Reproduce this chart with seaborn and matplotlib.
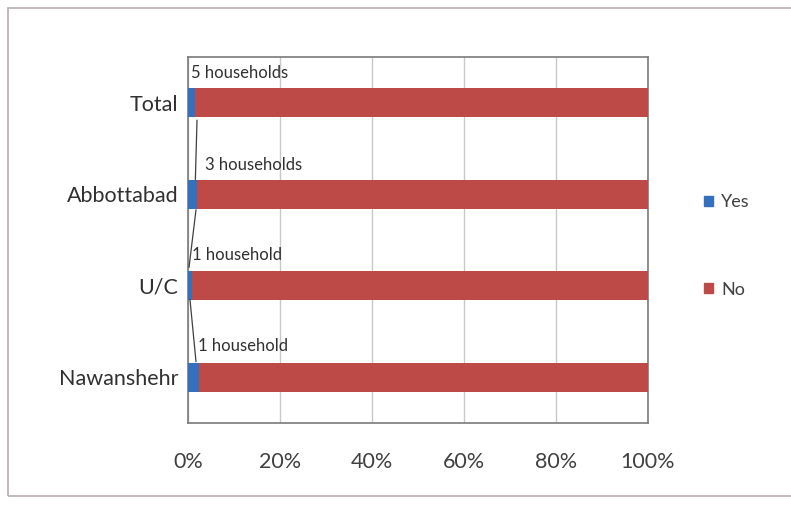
import matplotlib
matplotlib.use("Agg")
import matplotlib.pyplot as plt
import seaborn as sns
import pandas as pd
from matplotlib.patches import Rectangle, Patch

categories = ["Total", "Abbottabad", "U/C", "Nawanshehr"]
yes_pct = [1.6, 2.0, 0.8, 2.3]
no_pct = [98.4, 98.0, 99.2, 97.7]
labels = ["5 households", "3 households", "1 household", "1 household"]
xticks = [0, 20, 40, 60, 80, 100]
xtick_labels = ["0%", "20%", "40%", "60%", "80%", "100%"]

sns.set_theme(style="white")
plt.rcParams['font.family'] = ['Lato', 'DejaVu Sans']

df = pd.DataFrame({"cat": categories, "yes": yes_pct, "no": no_pct})
df["total"] = df["yes"] + df["no"]

fig = plt.figure(figsize=(7.91, 5.07), dpi=100)
ax = fig.add_axes([188/791, 1-423/507, (648-188)/791, (423-57)/507])

blue = "#3470BE"
red = "#BE4A48"
sns.barplot(data=df, y="cat", x="total", order=categories, color=red, width=0.32,
            orient="h", ax=ax, saturation=1, zorder=3, linewidth=0)
sns.barplot(data=df, y="cat", x="yes", order=categories, color=blue, width=0.32,
            orient="h", ax=ax, saturation=1, zorder=4, linewidth=0)

ax.set_xlim(0, 100)
ax.set_ylim(3.5, -0.5)
ax.set_xticks(xticks)
ax.set_xticklabels(xtick_labels, fontsize=15.5, color="#404040")
ax.tick_params(axis="x", pad=21, length=0)
ax.tick_params(axis="y", pad=7, length=0, labelsize=15.5, labelcolor="#303030")
ax.set_xlabel("")
ax.set_ylabel("")
ax.xaxis.grid(True, color="#c8c8c8", lw=1, zorder=0)
ax.set_axisbelow(True)
for s in ax.spines.values():
    s.set_visible(True)
    s.set_color("#7a7a7a")
    s.set_linewidth(1.2)

# data labels
label_pos = [(0.6, -0.33), (3.7, 0.68), (0.9, 1.66), (2.2, 2.66)]
for (x, y), t in zip(label_pos, labels):
    ax.text(x, y, t, fontsize=12, color="#303030", ha="left", va="center", zorder=5)

# leader lines
leaders = [((1.96, 0.19), (1.6, 0.84)),
           ((1.74, 1.17), (0.22, 1.80)),
           ((0.43, 2.15), (1.74, 2.83))]
for (x0, y0), (x1, y1) in leaders:
    ax.plot([x0, x1], [y0, y1], color="#404040", lw=0.9, zorder=5)

# legend
handles = [Patch(facecolor=blue, edgecolor=blue), Patch(facecolor=red, edgecolor=red)]
leg = fig.legend(handles, ["Yes", "No"], loc="upper left",
                 bbox_to_anchor=(688/791, 1-178/507), frameon=False,
                 handlelength=0.5, handleheight=0.5, handletextpad=0.45,
                 labelspacing=3.95, fontsize=13)
for t in leg.get_texts():
    t.set_color("#404040")

# chart border
fig.add_artist(Rectangle((8/791, 1-496/507), 1.0, (496-8)/507, transform=fig.transFigure,
                         fill=False, edgecolor="#b8adad", lw=1.2))

fig.savefig("out.png", dpi=100)
